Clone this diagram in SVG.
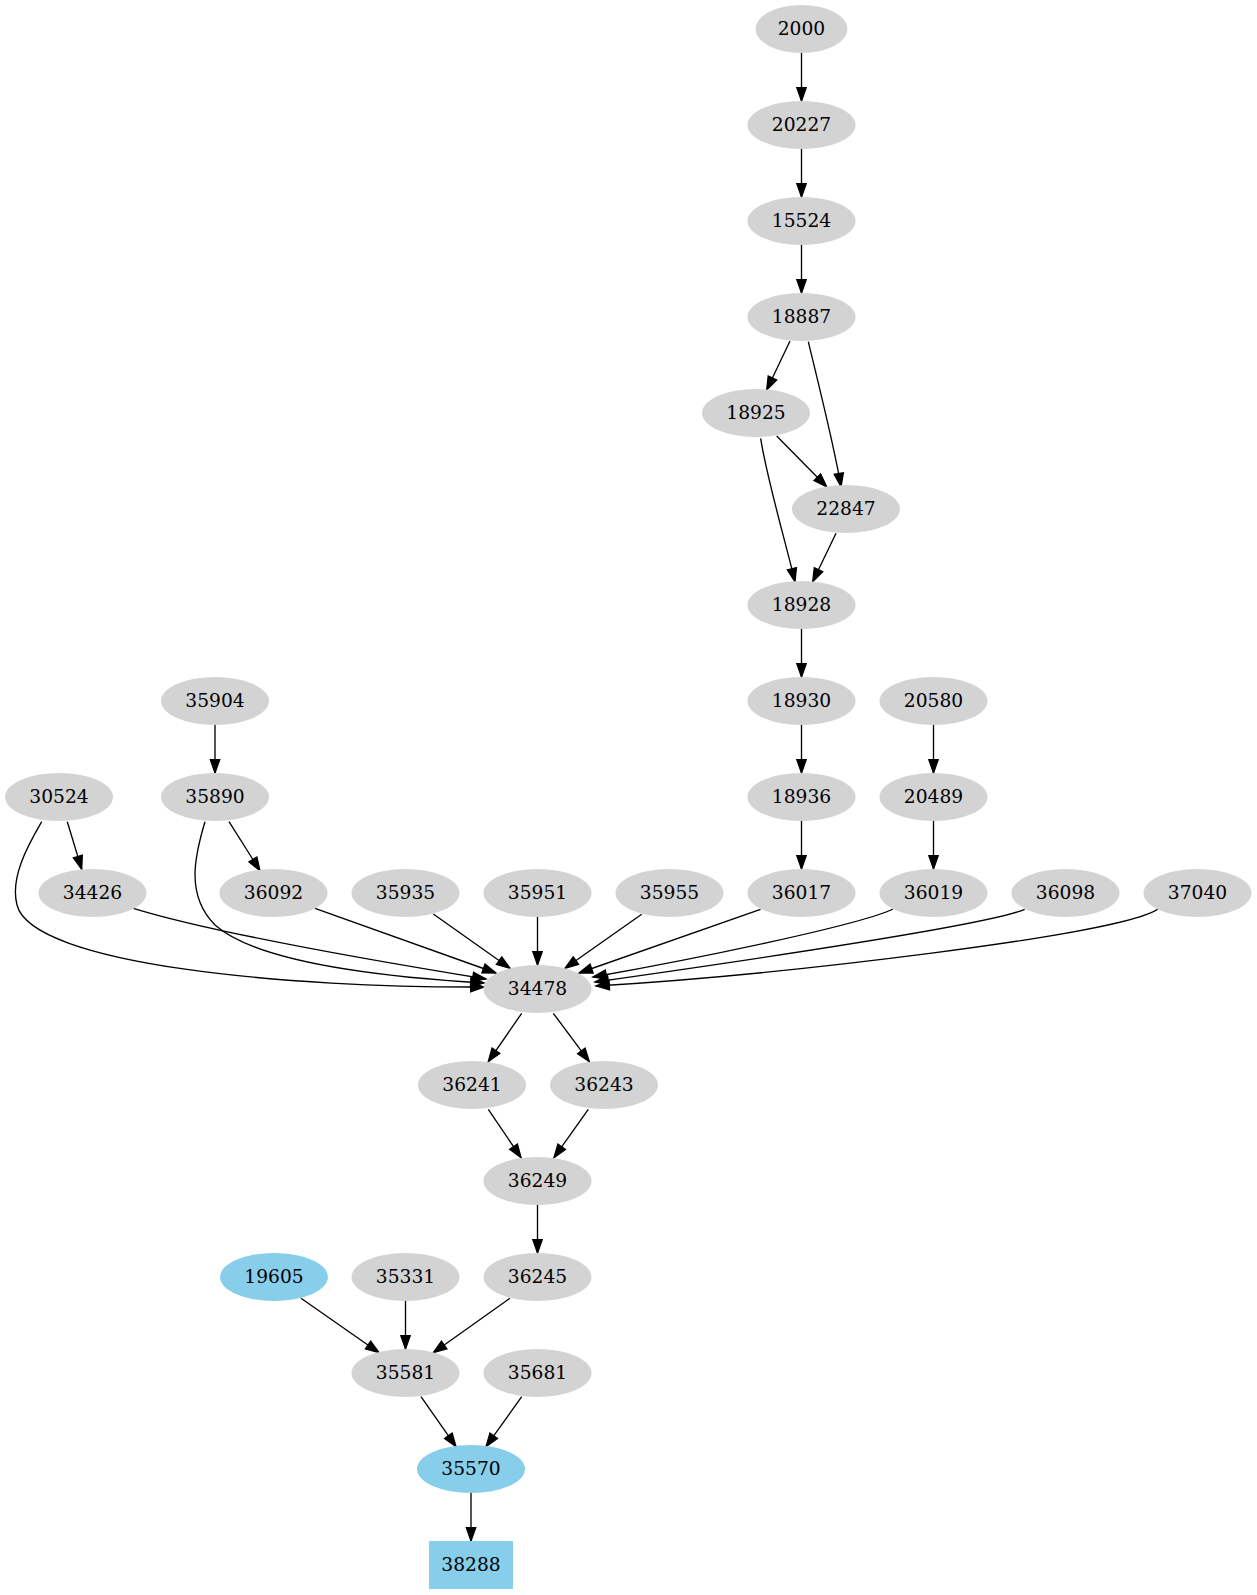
<svg xmlns="http://www.w3.org/2000/svg" width="1257" height="1595" viewBox="0 0 1257 1595">
<style>
.n ellipse,.n rect{fill:#d3d3d3;stroke:none}
.b ellipse,.b rect{fill:#87ceeb;stroke:none}
text{font-family:"DejaVu Serif","Liberation Serif",serif;font-size:18.67px;text-anchor:middle;fill:#000}
#edges path{fill:none;stroke:#000;stroke-width:1.33;marker-end:url(#arr)}
</style>
<defs>
<marker id="arr" markerUnits="userSpaceOnUse" markerWidth="16" markerHeight="12" refX="13.33" refY="4.67" orient="auto" overflow="visible">
<path d="M0,0 L13.33,4.67 L0,9.33 Z" fill="#000" stroke="#000" stroke-width="1.33"/>
</marker>
</defs>
<rect width="1257" height="1595" fill="#fff"/>
<g id="edges">
<path d="M801.5,53 L801.5,101"/>
<path d="M801.5,149 L801.5,197"/>
<path d="M801.5,245 L801.5,293"/>
<path d="M790,341 L766.7,390"/>
<path d="M808.3,341.7 C817,378 834,445 841,486.7"/>
<path d="M776.7,436 L826.7,486.7"/>
<path d="M760.7,438.3 C766,475 785,540 795,581.7"/>
<path d="M836,533.3 L812.7,581.7"/>
<path d="M801.5,629 L801.5,677"/>
<path d="M801.5,725 L801.5,773"/>
<path d="M933.5,725 L933.5,773"/>
<path d="M801.5,821 L801.5,869"/>
<path d="M933.5,821 L933.5,869"/>
<path d="M215,725 L215,773"/>
<path d="M67.3,821.7 L81.7,869.3"/>
<path d="M229,821.7 L260,870.7"/>
<path d="M41.7,821.7 C27,847 10,878 17,905 C32,965 290,988 484,987"/>
<path d="M205,821.7 C195,855 185,895 215,925 C260,965 400,978 484,983"/>
<path d="M133.3,908.3 C220,935 400,965 486,979"/>
<path d="M315,908.3 L496,973"/>
<path d="M433.3,914 L510,968.3"/>
<path d="M537.5,917 L537.5,965"/>
<path d="M641.7,914.3 L565,968.3"/>
<path d="M760.5,909.3 L579,973"/>
<path d="M893,909 C860,925 700,958 593,977"/>
<path d="M1024.7,909.3 C990,925 750,960 595,982"/>
<path d="M1157.7,909.3 C1120,935 780,975 596,986"/>
<path d="M521.7,1013.3 L488.3,1061.7"/>
<path d="M553.3,1013.3 L589.3,1061.7"/>
<path d="M488.3,1109.3 L521,1157.7"/>
<path d="M588.3,1109.3 L554,1157.7"/>
<path d="M537.5,1205 L537.5,1253"/>
<path d="M301,1298.3 L379,1352.7"/>
<path d="M405.5,1301 L405.5,1349"/>
<path d="M510,1298.3 L433.3,1352.7"/>
<path d="M421,1396.7 L456,1446.7"/>
<path d="M521.7,1396.7 L486,1446.7"/>
<path d="M471,1493 L471,1541"/>
</g>
<g id="node-2000" class="n"><ellipse cx="801.5" cy="29" rx="46" ry="24"/><text x="801.5" y="35">2000</text></g>
<g id="node-20227" class="n"><ellipse cx="801.5" cy="125" rx="54" ry="24"/><text x="801.5" y="131">20227</text></g>
<g id="node-15524" class="n"><ellipse cx="801.5" cy="221" rx="54" ry="24"/><text x="801.5" y="227">15524</text></g>
<g id="node-18887" class="n"><ellipse cx="801.5" cy="317" rx="54" ry="24"/><text x="801.5" y="323">18887</text></g>
<g id="node-18925" class="n"><ellipse cx="756" cy="413" rx="54" ry="24"/><text x="756" y="419">18925</text></g>
<g id="node-22847" class="n"><ellipse cx="846" cy="509" rx="54" ry="24"/><text x="846" y="515">22847</text></g>
<g id="node-18928" class="n"><ellipse cx="801.5" cy="605" rx="54" ry="24"/><text x="801.5" y="611">18928</text></g>
<g id="node-18930" class="n"><ellipse cx="801.5" cy="701" rx="54" ry="24"/><text x="801.5" y="707">18930</text></g>
<g id="node-20580" class="n"><ellipse cx="933.5" cy="701" rx="54" ry="24"/><text x="933.5" y="707">20580</text></g>
<g id="node-35904" class="n"><ellipse cx="215" cy="701" rx="54" ry="24"/><text x="215" y="707">35904</text></g>
<g id="node-30524" class="n"><ellipse cx="59" cy="797" rx="54" ry="24"/><text x="59" y="803">30524</text></g>
<g id="node-35890" class="n"><ellipse cx="215" cy="797" rx="54" ry="24"/><text x="215" y="803">35890</text></g>
<g id="node-18936" class="n"><ellipse cx="801.5" cy="797" rx="54" ry="24"/><text x="801.5" y="803">18936</text></g>
<g id="node-20489" class="n"><ellipse cx="933.5" cy="797" rx="54" ry="24"/><text x="933.5" y="803">20489</text></g>
<g id="node-34426" class="n"><ellipse cx="92.5" cy="893" rx="54" ry="24"/><text x="92.5" y="899">34426</text></g>
<g id="node-36092" class="n"><ellipse cx="273.5" cy="893" rx="54" ry="24"/><text x="273.5" y="899">36092</text></g>
<g id="node-35935" class="n"><ellipse cx="405.5" cy="893" rx="54" ry="24"/><text x="405.5" y="899">35935</text></g>
<g id="node-35951" class="n"><ellipse cx="537.5" cy="893" rx="54" ry="24"/><text x="537.5" y="899">35951</text></g>
<g id="node-35955" class="n"><ellipse cx="669.5" cy="893" rx="54" ry="24"/><text x="669.5" y="899">35955</text></g>
<g id="node-36017" class="n"><ellipse cx="801.5" cy="893" rx="54" ry="24"/><text x="801.5" y="899">36017</text></g>
<g id="node-36019" class="n"><ellipse cx="933.5" cy="893" rx="54" ry="24"/><text x="933.5" y="899">36019</text></g>
<g id="node-36098" class="n"><ellipse cx="1065.5" cy="893" rx="54" ry="24"/><text x="1065.5" y="899">36098</text></g>
<g id="node-37040" class="n"><ellipse cx="1197.5" cy="893" rx="54" ry="24"/><text x="1197.5" y="899">37040</text></g>
<g id="node-34478" class="n"><ellipse cx="537.5" cy="989" rx="54" ry="24"/><text x="537.5" y="995">34478</text></g>
<g id="node-36241" class="n"><ellipse cx="472" cy="1085" rx="54" ry="24"/><text x="472" y="1091">36241</text></g>
<g id="node-36243" class="n"><ellipse cx="604" cy="1085" rx="54" ry="24"/><text x="604" y="1091">36243</text></g>
<g id="node-36249" class="n"><ellipse cx="537.5" cy="1181" rx="54" ry="24"/><text x="537.5" y="1187">36249</text></g>
<g id="node-19605" class="b"><ellipse cx="274" cy="1277" rx="54" ry="24"/><text x="274" y="1283">19605</text></g>
<g id="node-35331" class="n"><ellipse cx="405.5" cy="1277" rx="54" ry="24"/><text x="405.5" y="1283">35331</text></g>
<g id="node-36245" class="n"><ellipse cx="537.5" cy="1277" rx="54" ry="24"/><text x="537.5" y="1283">36245</text></g>
<g id="node-35581" class="n"><ellipse cx="405.5" cy="1373" rx="54" ry="24"/><text x="405.5" y="1379">35581</text></g>
<g id="node-35681" class="n"><ellipse cx="537.5" cy="1373" rx="54" ry="24"/><text x="537.5" y="1379">35681</text></g>
<g id="node-35570" class="b"><ellipse cx="471" cy="1469" rx="54" ry="24"/><text x="471" y="1475">35570</text></g>
<g id="node-38288" class="b"><rect x="429" y="1541" width="84" height="48"/><text x="471" y="1571">38288</text></g>
</svg>
